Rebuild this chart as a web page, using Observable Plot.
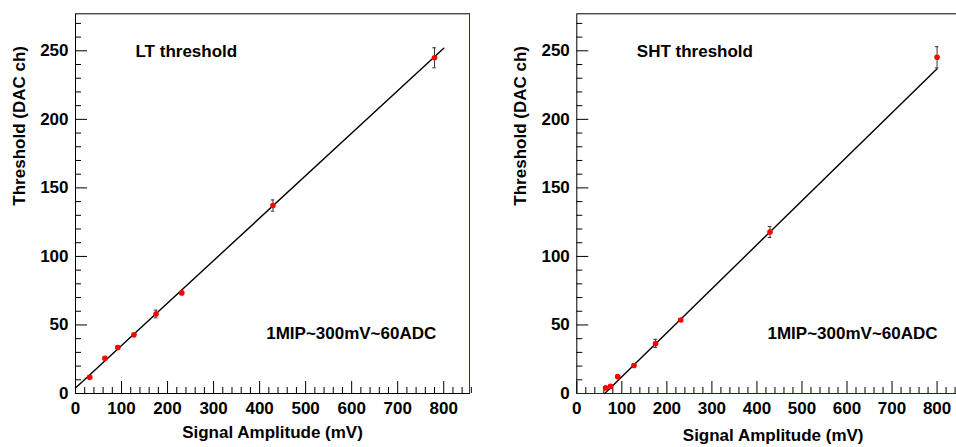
<!DOCTYPE html>
<html>
<head>
<meta charset="utf-8">
<script src="https://cdn.jsdelivr.net/npm/d3@7"></script>
<script src="https://cdn.jsdelivr.net/npm/@observablehq/plot@0.6"></script>
<style>
  html, body { margin: 0; padding: 0; background: #fff; overflow: hidden; }
  #wrap { position: relative; width: 956px; height: 447px; overflow: hidden; }
  #lt { position: absolute; left: 0; top: 0; width: 480px; height: 447px; }
  #sht { position: absolute; left: 480px; top: 0; width: 489px; height: 447px; }
  #wrap svg { max-width: none !important; display: block; }
</style>
</head>
<body>
<div id="wrap"><div id="lt"></div><div id="sht"></div></div>
<script>
// ---- data ----
const ltX   = [31, 64, 92, 127, 175, 231, 429, 780];
const ltY   = [11.8, 25.7, 33.6, 42.8, 58.0, 73.4, 137.1, 244.9];
const ltErr = [1, 1, 1, 1, 2.8, 1, 4.1, 7.3];
const ltFitX = [0, 800];
const ltFitY = [4.0, 251.9];

const shtX   = [64, 75, 91, 127, 175, 231, 429, 800];
const shtY   = [4.1, 5.2, 12.3, 20.4, 36.5, 53.6, 117.8, 245.3];
const shtErr = [1, 1, 1, 1, 3, 1, 4, 7.7];
const shtFitX = [62, 800];
const shtFitY = [0, 237];

const xMajor = [0, 100, 200, 300, 400, 500, 600, 700, 800];
const xMinor = d3.range(20, 861, 20).filter(v => v % 100 !== 0);
const yMajor = [0, 50, 100, 150, 200, 250];
const yMinor = d3.range(10, 271, 10).filter(v => v % 50 !== 0);

const xTitle = "Signal Amplitude (mV)";
const yTitle = "Threshold (DAC ch)";
const note = "1MIP~300mV~60ADC";

const FONT = "'Liberation Sans', Arial, Helvetica, sans-serif";
const DARKRED = "#7f1a1a";

function panel(o) {
  const pts = o.xs.map((x, i) => ({x, y: o.ys[i], e: o.errs[i]}));
  const fit = o.fitX.map((x, i) => ({x, y: o.fitY[i]}));
  const H = 447, mt = 13.3, mb = 447 - 393;
  const ph = H - mt - mb;
  const pw = o.width - o.marginLeft - o.marginRight;
  const marks = [
    o.redBottom ? Plot.ruleY([0], {y: d => d, stroke: DARKRED}) : null,
    Plot.ruleX(xMinor, {x: d => d, insetTop: ph - 6, stroke: "black"}),
    Plot.ruleX(xMajor, {x: d => d, insetTop: ph - 12, stroke: "black"}),
    Plot.ruleY(yMinor, {y: d => d, insetRight: pw - 6, stroke: "black"}),
    Plot.ruleY(yMajor, {y: d => d, insetRight: pw - 12, stroke: "black"}),
    Plot.axisX({ticks: xMajor, tickSize: 0, tickPadding: 8, label: null, tickFormat: d => String(d)}),
    Plot.axisY({ticks: yMajor, tickSize: 0, tickPadding: 7, label: null, tickFormat: d => String(d)}),
    Plot.frame({stroke: "black"}),
    o.redRight ? Plot.ruleX([o.xMax], {x: d => d, stroke: DARKRED}) : null,
    o.redBottom ? Plot.ruleY([0], {y: d => d, stroke: DARKRED, strokeOpacity: 0.7}) : null,
    Plot.line(fit, {x: "x", y: "y", stroke: "black", strokeWidth: 1.4}),
    Plot.ruleX(pts, {x: "x", y1: d => d.y - d.e, y2: d => d.y + d.e, stroke: "#333", strokeWidth: 1}),
    Plot.ruleY(pts, {y: d => d.y + d.e, x1: "x", x2: "x", insetLeft: -1.8, insetRight: -1.8, stroke: "#333"}),
    Plot.ruleY(pts, {y: d => d.y - d.e, x1: "x", x2: "x", insetLeft: -1.8, insetRight: -1.8, stroke: "#333"}),
    Plot.dot(pts, {x: "x", y: "y", r: 2.8, fill: "#ff0000", stroke: "none"}),
    Plot.text([o.title], {frameAnchor: "top-left", dx: 60, dy: 30.7, textAnchor: "start", text: d => d}),
    Plot.text([note], {frameAnchor: "top-left", dx: 190.7, dy: 312.7, textAnchor: "start", text: d => d}),
    Plot.text([xTitle], {frameAnchor: "bottom", dy: o.xTitleDy, text: d => d}),
    Plot.text([yTitle], {frameAnchor: "left", dx: -56, dy: 2, rotate: -90, text: d => d})
  ].filter(Boolean);
  return Plot.plot({
    width: o.width, height: H,
    marginLeft: o.marginLeft, marginRight: o.marginRight, marginTop: mt, marginBottom: mb,
    x: {domain: [0, o.xMax]},
    y: {domain: [0, 277]},
    style: {fontFamily: FONT, fontSize: "17px", fontWeight: "bold", color: "black", background: "white", overflow: "visible", maxWidth: "none"},
    marks
  });
}

document.getElementById("lt").append(panel({
  xs: ltX, ys: ltY, errs: ltErr, fitX: ltFitX, fitY: ltFitY, title: "LT threshold",
  width: 480, marginLeft: 75, marginRight: 11, xMax: 856, redRight: true, redBottom: false, xTitleDy: 44
}));
document.getElementById("sht").append(panel({
  xs: shtX, ys: shtY, errs: shtErr, fitX: shtFitX, fitY: shtFitY, title: "SHT threshold",
  width: 489, marginLeft: 96.3, marginRight: 0, xMax: 872, redRight: false, redBottom: true, xTitleDy: 47
}));
</script>
</body>
</html>
